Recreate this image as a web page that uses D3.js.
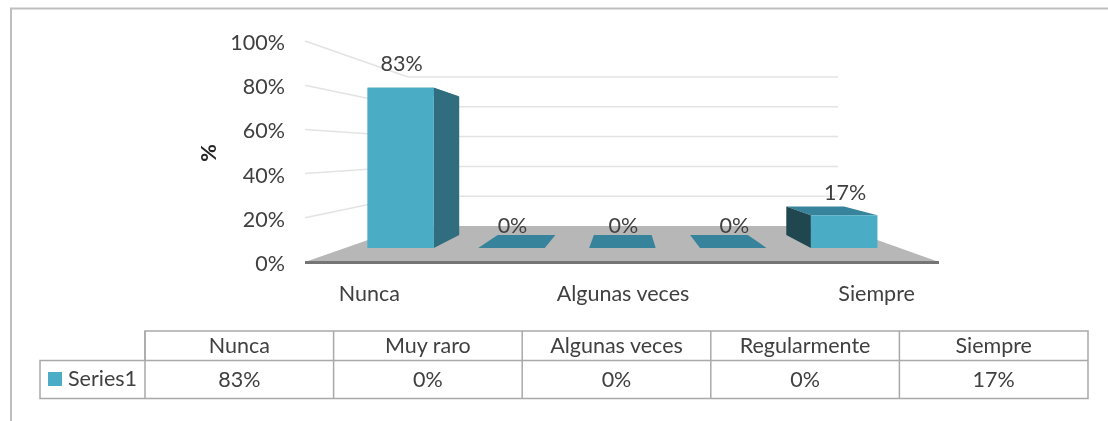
<!DOCTYPE html>
<html>
<head>
<meta charset="utf-8">
<script src="https://cdn.jsdelivr.net/npm/d3@7"></script>
<style>
	html, body { margin: 0; padding: 0; background: #fff; }
	svg { display: block; font-family: Lato, "Open Sans", sans-serif; filter: blur(0.4px); }
	text { fill: #404040; font-size: 21.5px; }
</style>
</head>
<body>
<figure id="chart" style="margin:0"></figure>
<script>
// chart values
var categories = ["Nunca", "Muy raro", "Algunas veces", "Regularmente", "Siempre"];
var values = [83, 0, 0, 0, 17];
var yTicks = [0, 20, 40, 60, 80, 100];
var axisLabels = ["Nunca", "Algunas veces", "Siempre"];
var seriesName = "Series1";
var yTitle = "%";

var dimensions = { width: 1108, height: 421 };
var depth = { barFront: 0.39, barBack: 0.75 };

var svg = d3.select("figure#chart")
	.append("svg")
	.attr("width", dimensions.width)
	.attr("height", dimensions.height)
	.attr("viewBox", `0 0 ${dimensions.width} ${dimensions.height}`);

// the 3D box: front and back plane each get their own scales, depth blends them
var xFront = d3.scaleBand().domain(categories).range([305, 939]);
var xBack = d3.scaleBand().domain(categories).range([408, 838]);
var yFront = d3.scaleLinear().domain([0, 100]).range([262, 41]);
var yBack = d3.scaleLinear().domain([0, 100]).range([226, 77]);

function px(cat, offset, d) {
	var f = xFront(cat) + xFront.bandwidth() * offset;
	var b = xBack(cat) + xBack.bandwidth() * offset;
	return f + (b - f) * d;
}
function py(v, d) {
	return yFront(v) + (yBack(v) - yFront(v)) * d;
}
function pt(cat, offset, v, d) {
	return [px(cat, offset, d), py(v, d)];
}
function poly(parent, pts, fill) {
	return parent.append("polygon")
		.attr("points", pts.map(p => p.join(",")).join(" "))
		.attr("fill", fill);
}

// outer frame
svg.append("path")
	.attr("d", "M11,421V8.5H1108")
	.attr("fill", "none")
	.attr("stroke", "#bfbfbf")
	.attr("stroke-width", 2);

// gridlines on the left and back walls
var xLeft = xFront.range()[0], xBackLeft = xBack.range()[0], xBackRight = xBack.range()[1];
var grid = svg.append("g")
	.attr("fill", "none")
	.attr("stroke", "#e3e3e3")
	.attr("stroke-width", 1.5);
yTicks.filter(t => t > 0).forEach(function(t) {
	grid.append("path")
		.attr("d", `M${xLeft},${yFront(t)}L${xBackLeft},${yBack(t)}H${xBackRight}`);
});

// floor
poly(svg, [
	[xFront.range()[0], yFront(0)],
	[xBack.range()[0], yBack(0)],
	[xBack.range()[1], yBack(0)],
	[xFront.range()[1], yFront(0)]
], "#b7b7b7");
svg.append("rect")
	.attr("x", xFront.range()[0])
	.attr("y", yFront(0) - 1)
	.attr("width", xFront.range()[1] - xFront.range()[0])
	.attr("height", 3)
	.attr("fill", "#757575");

// bars
var barL = 0.2, barR = 0.8;
categories.forEach(function(cat, i) {
	var v = values[i];
	var g = svg.append("g");
	var a = depth.barFront, b = depth.barBack;
	// top face
	poly(g, [pt(cat, barL, v, a), pt(cat, barL, v, b), pt(cat, barR, v, b), pt(cat, barR, v, a)], "#37839b");
	if (v > 0) {
		// side face, whichever one the perspective shows
		if (i < 2) {
			poly(g, [pt(cat, barR, 0, a), pt(cat, barR, v, a), pt(cat, barR, v, b), pt(cat, barR, 0, b)], "#306e7f");
		} else {
			poly(g, [pt(cat, barL, 0, a), pt(cat, barL, v, a), pt(cat, barL, v, b), pt(cat, barL, 0, b)], "#20474f");
		}
		// front face
		poly(g, [pt(cat, barL, 0, a), pt(cat, barL, v, a), pt(cat, barR, v, a), pt(cat, barR, 0, a)], "#4bacc6");
	}
});

// data labels
svg.selectAll("text.value")
	.data(values)
	.enter()
	.append("text")
	.attr("class", "value")
	.attr("text-anchor", "middle")
	.attr("x", (d, i) => px(categories[i], 0.5, 0.39) + 1)
	.attr("y", d => py(d, 0.35) - 16)
	.text(d => d + "%");

// y axis labels
svg.selectAll("text.ytick")
	.data(yTicks)
	.enter()
	.append("text")
	.attr("class", "ytick")
	.attr("text-anchor", "end")
	.attr("x", 285)
	.attr("y", d => yFront(d) + 9)
	.text(d => d + "%");

svg.append("text")
	.attr("transform", "translate(216,153) rotate(-90)")
	.attr("text-anchor", "middle")
	.style("font-weight", "bold")
	.style("fill", "#262626")
	.text(yTitle);

// category labels, only every other one fits
svg.selectAll("text.cat")
	.data(axisLabels)
	.enter()
	.append("text")
	.attr("class", "cat")
	.attr("text-anchor", "middle")
	.attr("x", d => xFront(d) + xFront.bandwidth() / 2 + 1)
	.attr("y", 301)
	.text(d => d);

// data table under the chart
var xTable = d3.scaleBand().domain(categories).range([145, 1088]);
var yHeader = 331, yMid = 360.5, yBottom = 398.5, xLegend = 40;
var lines = svg.append("g")
	.attr("fill", "none")
	.attr("stroke", "#a9a9a9")
	.attr("stroke-width", 1.5);
lines.append("path").attr("d", `M${xTable.range()[0]},${yMid}V${yHeader}H${xTable.range()[1]}V${yBottom}H${xLegend}V${yMid}H${xTable.range()[1]}`);
categories.forEach(function(cat) {
	lines.append("line")
		.attr("x1", xTable(cat)).attr("x2", xTable(cat))
		.attr("y1", yHeader).attr("y2", yBottom);
});

categories.forEach(function(cat, i) {
	var cx = xTable(cat) + xTable.bandwidth() / 2;
	svg.append("text").attr("text-anchor", "middle").attr("x", cx).attr("y", 353).text(cat);
	svg.append("text").attr("text-anchor", "middle").attr("x", cx).attr("y", 387).text(values[i] + "%");
});

svg.append("rect")
	.attr("x", 48).attr("y", 372)
	.attr("width", 14).attr("height", 14)
	.attr("fill", "#4bacc6");
svg.append("text").attr("x", 68).attr("y", 386).text(seriesName);
</script>
</body>
</html>
